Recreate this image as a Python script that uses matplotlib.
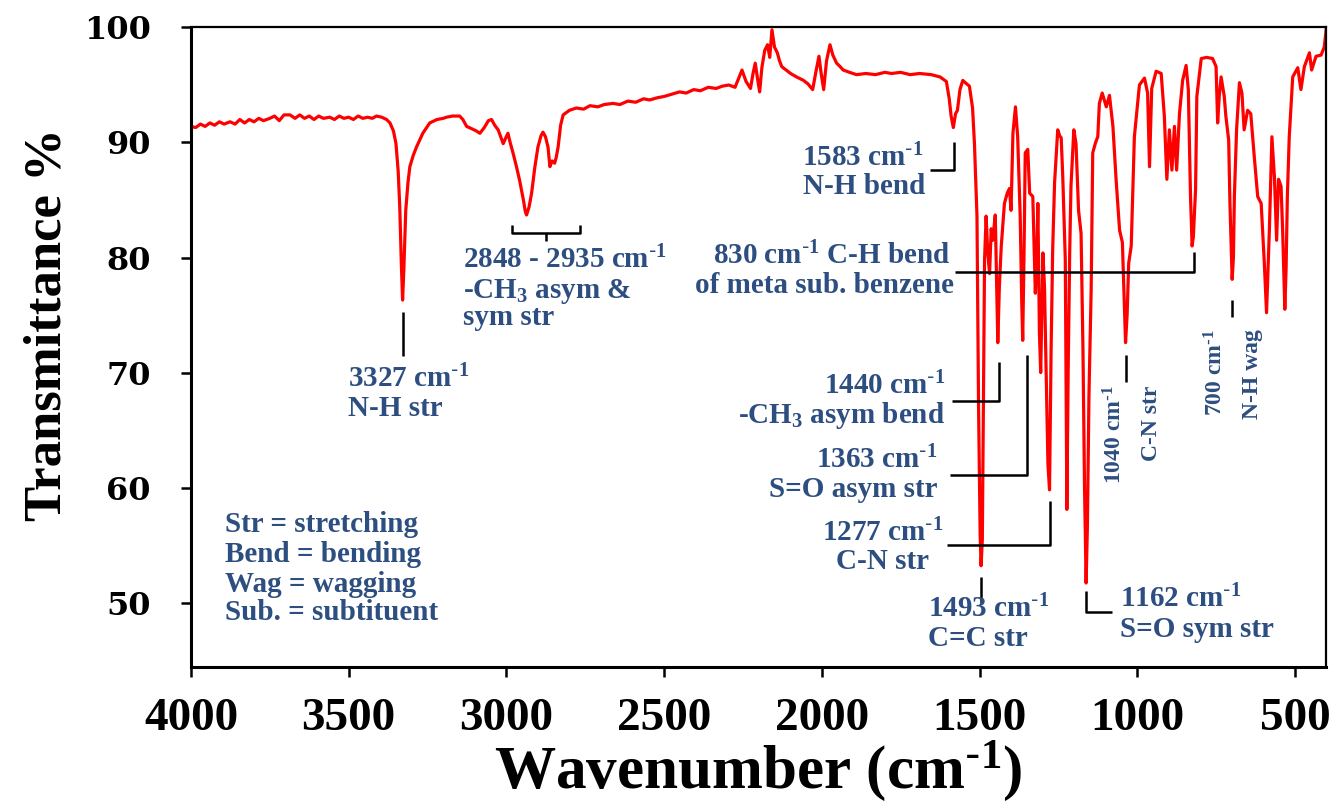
import numpy as np
import matplotlib
matplotlib.use('Agg')
import matplotlib.pyplot as plt

# FTIR spectrum, read point by point (cm-1, %T)
wavenumber = [
    4000, 3985, 3970, 3955, 3940, 3925, 3910, 3895, 3876, 3860, 3845, 3830,
    3815, 3800, 3785, 3770, 3750, 3735, 3720, 3705, 3686, 3670, 3655, 3640,
    3625, 3610, 3595, 3580, 3560, 3545, 3530, 3515, 3500, 3485, 3470, 3455,
    3440, 3425, 3412, 3395, 3380, 3369, 3358, 3350, 3343, 3338, 3333, 3329,
    3325, 3319, 3312, 3306, 3295, 3285, 3265, 3243, 3220, 3200, 3190, 3170,
    3148, 3138, 3126, 3110, 3095, 3084, 3070, 3057, 3047, 3037, 3026, 3018,
    3010, 3002, 2995, 2988, 2979, 2968, 2958, 2946, 2940, 2936, 2928, 2920,
    2910, 2900, 2890, 2884, 2876, 2868, 2862, 2855, 2847, 2842, 2836, 2828,
    2820, 2800, 2778, 2755, 2735, 2710, 2690, 2662, 2640, 2615, 2590, 2565,
    2546, 2520, 2500, 2475, 2451, 2430, 2406, 2385, 2360, 2335, 2315, 2295,
    2275, 2262, 2253, 2240, 2226, 2218, 2211, 2204, 2197, 2190, 2181, 2172,
    2165, 2158, 2150, 2141, 2134, 2127, 2113, 2099, 2080, 2058, 2044, 2029,
    2019, 2009, 2002, 1994, 1985, 1974, 1965, 1953, 1942, 1932, 1912, 1890,
    1860, 1830, 1800, 1779, 1750, 1720, 1690, 1653, 1625, 1605, 1596, 1590,
    1583, 1576, 1570, 1562, 1553, 1545, 1532, 1522, 1516, 1511, 1508, 1503,
    1498, 1495, 1491, 1487, 1484, 1479, 1474, 1468, 1463, 1458, 1450, 1446,
    1442, 1437, 1431, 1421, 1412, 1405, 1400, 1394, 1386, 1379, 1371, 1366,
    1363, 1359, 1355, 1347, 1341, 1331, 1323, 1318, 1315, 1310, 1306, 1302,
    1299, 1294, 1289, 1283, 1278, 1273, 1268, 1262, 1252, 1246, 1241, 1236,
    1228, 1225, 1223, 1219, 1214, 1210, 1201, 1194, 1186, 1178, 1172, 1167,
    1162, 1158, 1153, 1146, 1141, 1132, 1125, 1120, 1111, 1098, 1088, 1077,
    1067, 1056, 1047, 1042, 1037, 1032, 1027, 1019, 1009, 993, 977, 967,
    961, 954, 940, 924, 914, 906, 898, 890, 882, 875, 866, 856,
    845, 838, 831, 826, 822, 815, 811, 797, 780, 761, 750, 745,
    740, 734, 724, 719, 710, 706, 699, 695, 692, 685, 676, 668,
    661, 650, 640, 629, 618, 607, 597, 590, 586, 581, 573, 565,
    558, 552, 544, 539, 532, 528, 524, 518, 507, 491, 481, 470,
    454, 447, 433, 417, 407, 401,
]
transmittance = [
    91.4, 91.3, 91.6, 91.4, 91.7, 91.5, 91.8, 91.6, 91.8, 91.6, 92.0, 91.7,
    92.0, 91.8, 92.1, 91.9, 92.1, 92.3, 91.9, 92.4, 92.4, 92.1, 92.4, 92.1,
    92.3, 92.0, 92.3, 92.1, 92.2, 92.0, 92.3, 92.1, 92.2, 92.0, 92.3, 92.1,
    92.2, 92.1, 92.3, 92.2, 92.0, 91.7, 91.0, 89.9, 87.5, 84.4, 79.5, 76.3,
    79.0, 84.1, 86.5, 87.9, 88.9, 89.6, 90.8, 91.7, 92.0, 92.1, 92.2, 92.3,
    92.3, 92.0, 91.4, 91.2, 91.0, 90.8, 91.3, 91.9, 92.0, 91.5, 91.1, 90.5,
    89.9, 90.4, 90.8, 90.0, 89.1, 87.9, 86.7, 85.0, 84.0, 83.7, 84.4, 85.6,
    87.8, 89.6, 90.6, 90.9, 90.5, 89.6, 87.9, 88.4, 88.2, 88.7, 89.6, 91.5,
    92.4, 92.8, 93.0, 92.9, 93.2, 93.1, 93.3, 93.4, 93.3, 93.6, 93.5, 93.8,
    93.7, 93.9, 94.0, 94.2, 94.4, 94.3, 94.6, 94.5, 94.8, 94.7, 94.9, 95.0,
    94.8, 95.7, 96.3, 95.3, 94.7, 96.0, 96.9, 95.6, 94.4, 96.5, 98.0, 98.5,
    97.4, 99.8, 98.3, 97.8, 97.1, 96.6, 96.3, 96.0, 95.7, 95.4, 95.1, 94.6,
    96.1, 97.5, 96.0, 94.6, 97.1, 98.5, 97.6, 96.9, 96.6, 96.3, 96.1, 95.9,
    96.0, 95.9, 96.1, 96.0, 96.1, 95.9, 96.0, 95.9, 95.7, 95.3, 93.8, 92.3,
    91.3, 92.5, 92.8, 94.6, 95.4, 95.2, 94.9, 93.0, 89.9, 86.0, 83.6, 67.0,
    56.0, 53.2, 55.5, 69.0, 79.8, 83.6, 80.5, 78.6, 82.5, 81.5, 83.7, 78.0,
    72.6, 77.5, 81.0, 84.7, 85.6, 86.0, 84.1, 90.8, 93.1, 90.5, 83.6, 76.0,
    72.8, 80.0, 89.1, 89.4, 85.6, 85.3, 76.9, 80.5, 84.7, 73.4, 70.0, 76.0,
    80.4, 77.5, 70.5, 62.0, 59.8, 72.0, 80.7, 86.5, 91.1, 90.6, 90.4, 87.0,
    79.8, 66.0, 58.1, 70.0, 80.5, 86.2, 91.1, 89.9, 84.1, 82.1, 72.0, 60.0,
    51.7, 56.5, 68.0, 77.2, 89.1, 90.0, 90.5, 93.4, 94.3, 93.1, 94.1, 91.4,
    86.8, 82.4, 81.3, 77.0, 72.6, 75.0, 79.5, 81.0, 90.5, 95.0, 95.6, 94.3,
    87.9, 94.7, 96.2, 96.0, 92.3, 86.8, 91.1, 87.6, 91.4, 87.6, 92.5, 95.4,
    96.7, 94.6, 85.3, 81.0, 81.8, 85.9, 94.0, 97.3, 97.4, 97.3, 96.6, 91.7,
    94.0, 95.7, 94.0, 92.3, 90.2, 84.7, 78.1, 80.0, 85.3, 91.1, 95.2, 94.3,
    91.1, 92.8, 92.5, 88.8, 85.3, 84.7, 79.5, 75.2, 78.5, 82.4, 90.5, 87.0,
    81.5, 86.8, 86.2, 82.4, 75.5, 79.0, 85.3, 90.5, 95.7, 96.5, 94.6, 96.6,
    97.8, 96.3, 97.5, 97.6, 98.3, 99.8,
]

x_ticks = [4000, 3500, 3000, 2500, 2000, 1500, 1000, 500]
y_ticks = [50, 60, 70, 80, 90, 100]

plt.rcParams['mathtext.default'] = 'regular'

SERIF = 'Liberation Serif'
NOTE_COLOR = '#2D4E80'
CM = r'cm$^{\text{-}1}$'

fig = plt.figure(figsize=(13.4, 8.06), dpi=100)
ax = fig.add_axes([0.1425, 0.1725, 0.8474, 0.7934])

ax.plot(wavenumber, transmittance, color='#FF0000', lw=2.3)

ax.set_xlim(4000, 400)
ax.set_ylim(44.4, 100)
ax.set_xticks(x_ticks)
ax.set_yticks(y_ticks)
ax.tick_params(direction='out', length=7, width=1.8)
ax.tick_params(axis='x', pad=15)
ax.tick_params(axis='y', pad=22)
for lab in ax.get_xticklabels():
    lab.set_fontfamily(SERIF)
    lab.set_fontweight('bold')
    lab.set_fontsize(34)
for lab in ax.get_yticklabels():
    lab.set_fontfamily('DejaVu Serif')
    lab.set_fontweight('bold')
    lab.set_fontsize(23)
for side in ['left', 'bottom']:
    ax.spines[side].set_linewidth(2.2)
for side in ['top', 'right']:
    ax.spines[side].set_linewidth(1.6)

ax.set_xlabel('Wavenumber (' + CM + ')', family=SERIF, weight='bold',
              fontsize=44, va='baseline')
ax.xaxis.set_label_coords(0.5, -0.189)
ax.set_ylabel('Transmittance %', family=SERIF, weight='bold', fontsize=38,
              va='baseline')
ax.yaxis.set_label_coords(-0.115, 0.535)


def note(x, y, s, ha='left', rot=0, size=21):
    ax.text(x, y, s, ha=ha, va='baseline', rotation=rot,
            rotation_mode='anchor', family=SERIF, weight='bold',
            fontsize=size, color=NOTE_COLOR)


def leader(xs, ys):
    ax.plot(xs, ys, color='black', lw=1.8, solid_capstyle='butt')


# 3327 N-H stretch
leader([3327, 3327], [75.3, 71.4])
note(3502, 68.7, '3327 ' + CM)
note(3502, 66.2, 'N-H str')

# CH3 stretch bracket
leader([2983, 2983, 2767, 2767], [82.8, 82.1, 82.1, 82.8])
leader([2874, 2874], [82.1, 81.4])
note(3138, 79.1, '2848 - 2935 ' + CM)
note(3138, 76.5, '-CH$_3$ asym &')
note(3138, 74.1, 'sym str')

# 1583 N-H bend
leader([1582, 1582, 1657], [90.0, 87.6, 87.6])
note(1679, 87.9, '1583 ' + CM, ha='right')
note(1673, 85.5, 'N-H bend', ha='right')

# 830 C-H bend
leader([1578, 820, 820], [78.7, 78.7, 80.5])
note(1590, 79.4, '830 ' + CM + ' C-H bend', ha='right')
note(1581, 76.9, 'of meta sub. benzene', ha='right')

# 1440 CH3 bend
leader([1437, 1437, 1588], [70.9, 67.5, 67.5])
note(1609, 68.1, '1440 ' + CM, ha='right')
note(1609, 65.6, '-CH$_3$ asym bend', ha='right')

# 1363 S=O asym
leader([1350, 1350, 1594], [71.5, 61.1, 61.1])
note(1632, 61.7, '1363 ' + CM, ha='right')
note(1632, 59.2, 'S=O asym str', ha='right')

# 1277 C-N
leader([1277, 1277, 1604], [58.8, 55.0, 55.0])
note(1806, 55.3, '1277 ' + CM, ha='center')
note(1806, 52.9, 'C-N str', ha='center')

# 1493 C=C
leader([1495, 1495], [52.2, 50.0])
note(1663, 48.7, '1493 ' + CM)
note(1663, 46.2, 'C=C str')

# 1162 S=O sym
leader([1162, 1162, 1081], [51.0, 49.2, 49.2])
note(1054, 49.6, '1162 ' + CM)
note(1054, 47.0, 'S=O sym str')

# 1040 C-N (vertical text)
leader([1035, 1035], [71.5, 69.2])
note(1051, 68.9, '1040 ' + CM, ha='right', rot=90, size=17)
note(937, 68.9, 'C-N str', ha='right', rot=90, size=17)

# 700 N-H wag (vertical text)
leader([698, 698], [76.3, 74.8])
note(731, 73.8, '700 ' + CM, ha='right', rot=90, size=17)
note(617, 73.8, 'N-H wag', ha='right', rot=90, size=17)

# abbreviations
note(3892, 56.1, 'Str = stretching')
note(3892, 53.5, 'Bend = bending')
note(3892, 50.9, 'Wag = wagging')
note(3892, 48.5, 'Sub. = subtituent')

fig.savefig('out.png', dpi=100)
